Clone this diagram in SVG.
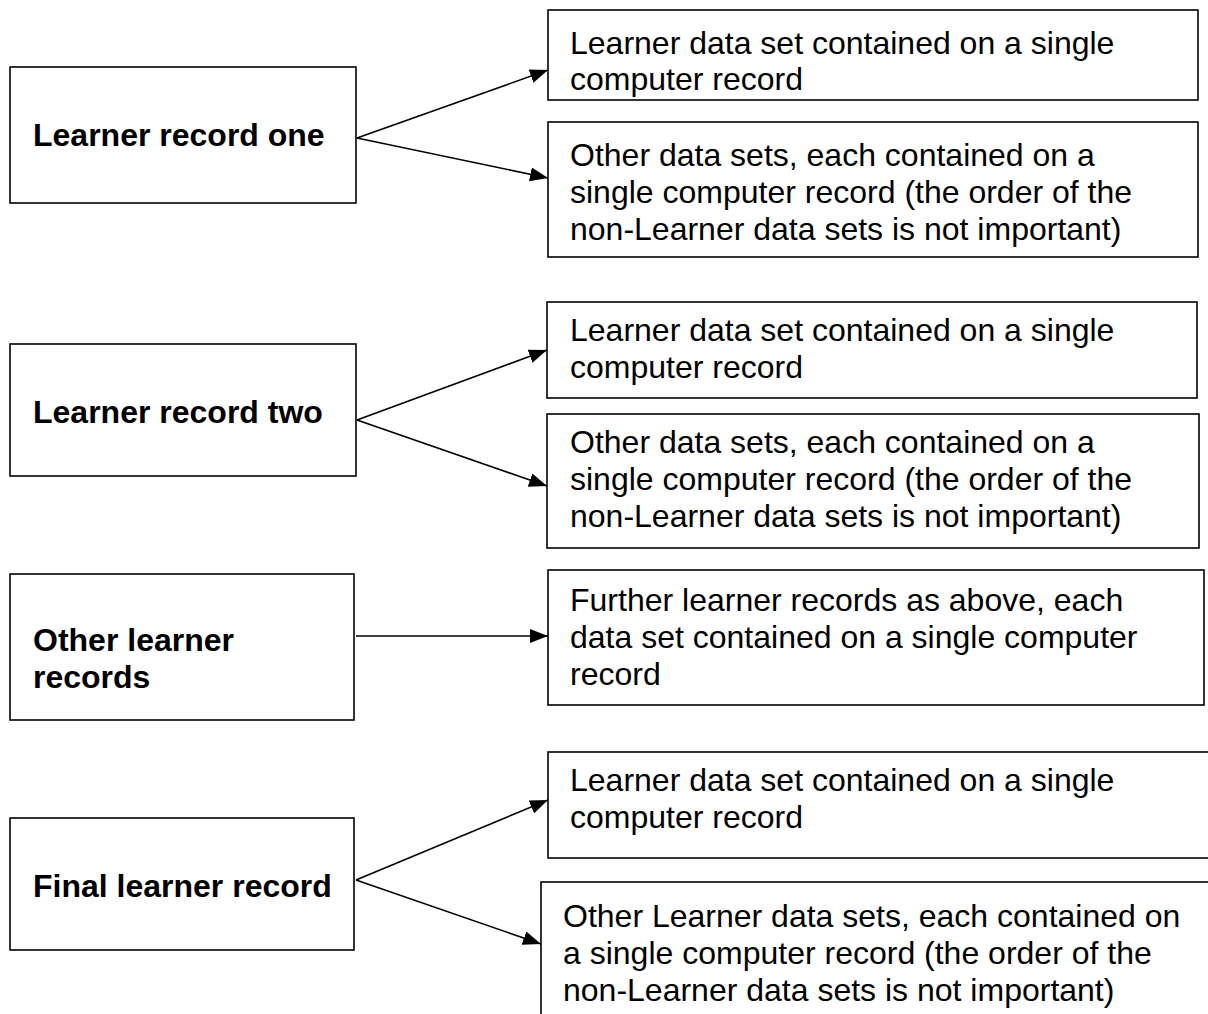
<svg xmlns="http://www.w3.org/2000/svg" width="1208" height="1014" viewBox="0 0 1208 1014">
<style>
.box{fill:#fff;stroke:#000;stroke-width:1.6}
.t{font-family:"Liberation Sans",Arial,sans-serif;font-size:32px;fill:#000}
.b{font-weight:bold}
.c{stroke:#000;stroke-width:1.6;fill:none;marker-end:url(#ah)}
</style>
<defs>
<marker id="ah" markerUnits="userSpaceOnUse" markerWidth="20" markerHeight="14" refX="18" refY="7" orient="auto">
<path d="M0,0 L18,7 L0,14 Z" fill="#000"/>
</marker>
</defs>
<rect width="1208" height="1014" fill="#fff"/>
<g id="connectors">
<line class="c" x1="357" y1="138" x2="548" y2="70"/>
<line class="c" x1="357" y1="138" x2="548" y2="178"/>
<line class="c" x1="357" y1="420" x2="547" y2="350"/>
<line class="c" x1="357" y1="420" x2="547" y2="486"/>
<line class="c" x1="356" y1="636" x2="548" y2="636"/>
<line class="c" x1="356" y1="880" x2="548" y2="800"/>
<line class="c" x1="356" y1="880" x2="541" y2="944"/>
</g>
<g id="n1">
<rect class="box" x="10" y="67" width="346" height="136"/>
<text class="t b" x="33" y="146">Learner record one</text>
</g>
<g id="n1a">
<rect class="box" x="548" y="10" width="650" height="90"/>
<text class="t" x="570" y="54">Learner data set contained on a single</text>
<text class="t" x="570" y="90">computer record</text>
</g>
<g id="n1b">
<rect class="box" x="548" y="122" width="650" height="135"/>
<text class="t" x="570" y="166">Other data sets, each contained on a</text>
<text class="t" x="570" y="203">single computer record (the order of the</text>
<text class="t" x="570" y="240">non-Learner data sets is not important)</text>
</g>
<g id="n2">
<rect class="box" x="10" y="344" width="346" height="132"/>
<text class="t b" x="33" y="423">Learner record two</text>
</g>
<g id="n2a">
<rect class="box" x="547" y="302" width="650" height="96"/>
<text class="t" x="570" y="341">Learner data set contained on a single</text>
<text class="t" x="570" y="378">computer record</text>
</g>
<g id="n2b">
<rect class="box" x="547" y="414" width="652" height="134"/>
<text class="t" x="570" y="453">Other data sets, each contained on a</text>
<text class="t" x="570" y="490">single computer record (the order of the</text>
<text class="t" x="570" y="527">non-Learner data sets is not important)</text>
</g>
<g id="n3">
<rect class="box" x="10" y="574" width="344" height="146"/>
<text class="t b" x="33" y="651">Other learner</text>
<text class="t b" x="33" y="688">records</text>
</g>
<g id="n3a">
<rect class="box" x="548" y="570" width="656" height="135"/>
<text class="t" x="570" y="611">Further learner records as above, each</text>
<text class="t" x="570" y="648">data set contained on a single computer</text>
<text class="t" x="570" y="685">record</text>
</g>
<g id="n4">
<rect class="box" x="10" y="818" width="344" height="132"/>
<text class="t b" x="33" y="897">Final learner record</text>
</g>
<g id="n4a">
<rect class="box" x="548" y="752" width="670" height="106"/>
<text class="t" x="570" y="791">Learner data set contained on a single</text>
<text class="t" x="570" y="828">computer record</text>
</g>
<g id="n4b">
<rect class="box" x="541" y="882" width="680" height="150"/>
<text class="t" x="563" y="927">Other Learner data sets, each contained on</text>
<text class="t" x="563" y="964">a single computer record (the order of the</text>
<text class="t" x="563" y="1001">non-Learner data sets is not important)</text>
</g>
</svg>
